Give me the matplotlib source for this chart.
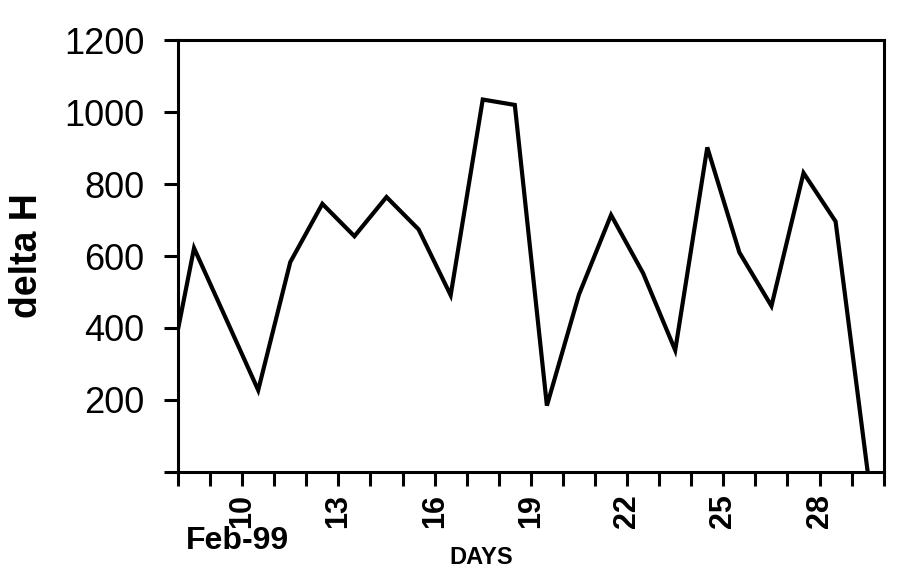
import matplotlib
matplotlib.use("Agg")
import matplotlib.pyplot as plt

plt.rcParams['font.family'] = ['Liberation Sans', 'DejaVu Sans']

# Data: daily delta H values, February 1999 (points plotted at mid-day)
days = [7.5, 8.5, 9.5, 10.5, 11.5, 12.5, 13.5, 14.5, 15.5, 16.5, 17.5, 18.5,
        19.5, 20.5, 21.5, 22.5, 23.5, 24.5, 25.5, 26.5, 27.5, 28.5, 29.5]
delta_h = [170, 622, 425, 227, 583, 745, 655, 764, 674, 491, 1035, 1020,
           184, 493, 714, 552, 338, 902, 610, 461, 831, 696, 0]

xtick_positions = list(range(8, 31))
xtick_labeled = [10, 13, 16, 19, 22, 25, 28]
ytick_positions = [0, 200, 400, 600, 800, 1000, 1200]
ytick_labels = ['', '200', '400', '600', '800', '1000', '1200']

fig = plt.figure(figsize=(8.99, 5.74), dpi=100)
ax = fig.add_axes([0.198, 0.178, 0.785, 0.752])

ax.plot(days, delta_h, color='black', linewidth=3.0, solid_joinstyle='miter')

ax.set_xlim(8, 30)
ax.set_ylim(0, 1200)

ax.set_xticks(xtick_positions)
ax.set_xticklabels([str(d) if d in xtick_labeled else '' for d in xtick_positions],
                   rotation=90, fontsize=22, fontweight='bold')
ax.set_yticks(ytick_positions)
ax.set_yticklabels(ytick_labels, fontsize=26)

ax.tick_params(axis='x', direction='out', length=10, width=2.2, pad=6)
ax.tick_params(axis='y', direction='out', length=10, width=2.2, pad=14)
for s in ax.spines.values():
    s.set_linewidth(2.2)

fig.text(27 / 899, 1 - 256 / 574, 'delta H', fontsize=27, fontweight='bold',
         rotation=90, ha='center', va='center')
fig.text(237 / 899, 1 - 541 / 574, 'Feb-99', fontsize=23, fontweight='bold',
         ha='center', va='center')
fig.text(481 / 899, 1 - 557 / 574, 'DAYS', fontsize=17, fontweight='bold',
         ha='center', va='center')

fig.savefig('out.png', dpi=100, facecolor='white')
